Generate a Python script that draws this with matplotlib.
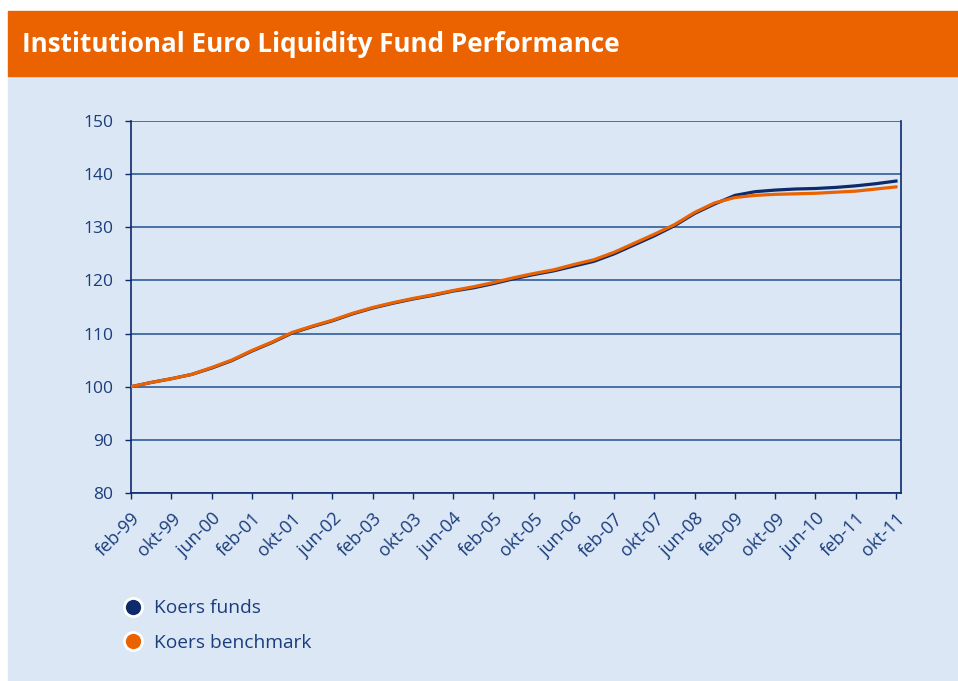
import matplotlib
matplotlib.use("Agg")
import matplotlib.pyplot as plt
from matplotlib.patches import Rectangle
from matplotlib.lines import Line2D

# Maanden sinds feb-99 en koersen
maanden = [0, 4, 8, 12, 16, 20, 24, 28, 32, 36, 40, 44, 48, 52, 56, 60, 64, 68,
           72, 76, 80, 84, 88, 92, 96, 100, 104, 108, 112, 116, 120, 124, 128,
           132, 136, 140, 144, 148, 152]
koers_funds = [100.0, 100.8, 101.5, 102.3, 103.5, 104.9, 106.7, 108.3, 110.1,
               111.3, 112.4, 113.7, 114.8, 115.7, 116.5, 117.2, 118.0, 118.6,
               119.4, 120.3, 121.1, 121.8, 122.7, 123.6, 125.0, 126.7, 128.4,
               130.3, 132.6, 134.4, 136.0, 136.7, 137.0, 137.2, 137.3, 137.5,
               137.8, 138.2, 138.7]
koers_benchmark = [100.0, 100.8, 101.5, 102.3, 103.6, 105.0, 106.8, 108.4, 110.2,
                   111.4, 112.5, 113.8, 114.9, 115.8, 116.6, 117.3, 118.1, 118.8,
                   119.6, 120.5, 121.3, 122.0, 123.0, 123.9, 125.3, 127.0, 128.7,
                   130.5, 132.8, 134.6, 135.6, 136.0, 136.2, 136.3, 136.4, 136.6,
                   136.8, 137.2, 137.6]

tick_maanden = list(range(0, 153, 8))
tick_labels = ["feb-99", "okt-99", "jun-00", "feb-01", "okt-01", "jun-02", "feb-03",
               "okt-03", "jun-04", "feb-05", "okt-05", "jun-06", "feb-07", "okt-07",
               "jun-08", "feb-09", "okt-09", "jun-10", "feb-11", "okt-11"]

ORANJE = "#EB6200"
NAVY = "#0D2A6B"
BLAUW_BG = "#DCE7F5"
GRID = "#2F5C98"
TEKST = "#1A3D7C"

plt.rcParams["font.family"] = ["Open Sans", "DejaVu Sans"]

fig = plt.figure(figsize=(9.58, 6.81), dpi=100)
fig.patch.set_facecolor("white")
W, H = 958, 681

# achtergrond panelen
fig.patches.append(Rectangle((8 / W, 0), 1 - 8 / W, 1 - 76 / H,
                             transform=fig.transFigure, color=BLAUW_BG, zorder=-2))
fig.patches.append(Rectangle((8 / W, 1 - 76 / H), 1 - 8 / W, 65 / H,
                             transform=fig.transFigure, color=ORANJE, zorder=-2))
fig.text(22 / W, 1 - 45 / H, "Institutional Euro Liquidity Fund Performance",
         color="white", fontsize=18.7, fontweight="bold", va="center", ha="left")

ax = fig.add_axes([131 / W, 1 - 493 / H, 770 / W, 372 / H])
ax.set_facecolor(BLAUW_BG)

ax.plot(maanden, koers_funds, color=NAVY, lw=2.3, zorder=3)
ax.plot(maanden, koers_benchmark, color=ORANJE, lw=2.3, zorder=4)

ax.set_xlim(0, 153)
ax.set_ylim(80, 150)
ax.set_yticks(range(80, 151, 10))
ax.yaxis.grid(True, color=GRID, lw=1.2)
ax.set_axisbelow(True)
ax.set_xticks(tick_maanden)
ax.set_xticklabels(tick_labels, rotation=45, ha="right", rotation_mode="anchor")

for s in ["left", "bottom", "right", "top"]:
    ax.spines[s].set_color(NAVY)
    ax.spines[s].set_linewidth(1.2)
ax.spines["top"].set_visible(False)
ax.tick_params(colors=NAVY, labelcolor=TEKST, length=4, width=1)
ax.tick_params(axis="y", labelsize=12.5, pad=9)
ax.tick_params(axis="x", labelsize=13, pad=8)

handles = [Line2D([], [], marker="o", ls="none", markersize=13, markerfacecolor=NAVY,
                  markeredgecolor="white", markeredgewidth=2),
           Line2D([], [], marker="o", ls="none", markersize=13, markerfacecolor=ORANJE,
                  markeredgecolor="white", markeredgewidth=2)]
leg = fig.legend(handles, ["Koers funds", "Koers benchmark"], loc="upper left",
                 bbox_to_anchor=(104 / W, 1 - 582 / H), frameon=False,
                 fontsize=13.8, handletextpad=0.5, labelspacing=0.85, handlelength=1.2)
for t in leg.get_texts():
    t.set_color(TEKST)

fig.savefig("out.png", dpi=100, facecolor=fig.get_facecolor())
